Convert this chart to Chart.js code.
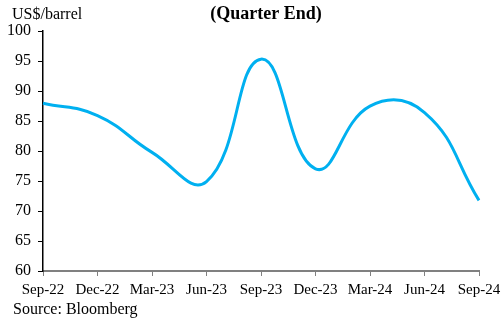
<!DOCTYPE html>
<html>
<head>
<meta charset="utf-8">
<script src="https://cdn.jsdelivr.net/npm/chart.js@4"></script>
<style>
  html, body { margin: 0; padding: 0; background: #fff; }
  #wrap { width: 502px; height: 322px; position: relative; }
</style>
</head>
<body>
<div id="wrap"><canvas id="brentChart" width="502" height="322"></canvas></div>
<script>
const quarters = ['Sep-22', 'Dec-22', 'Mar-23', 'Jun-23', 'Sep-23', 'Dec-23', 'Mar-24', 'Jun-24', 'Sep-24'];
const brentPrice = [87.96, 85.91, 79.77, 74.9, 95.31, 77.04, 87.48, 86.41, 71.77];
const yTicks = [60, 65, 70, 75, 80, 85, 90, 95, 100];

const serif = '"Liberation Serif", "Times New Roman", serif';

// title, unit label and source drawn as text on the canvas
const textPlugin = {
    id: 'extraText',
    afterDraw(chart) {
        const ctx = chart.ctx;
        ctx.save();
        ctx.fillStyle = '#000';
        ctx.textBaseline = 'middle';
        ctx.font = 'bold 18px ' + serif;
        ctx.textAlign = 'center';
        ctx.fillText('(Quarter End)', 266, 14);
        ctx.font = '16px ' + serif;
        ctx.textAlign = 'left';
        ctx.fillText('US$/barrel', 12, 15);
        ctx.fillText('Source: Bloomberg', 13, 310);
        ctx.restore();
    }
};

const ctx = document.getElementById('brentChart').getContext('2d');
new Chart(ctx, {
    type: 'line',
    data: {
        labels: quarters,
        datasets: [{
            data: brentPrice,
            borderColor: '#00B0F0',
            borderWidth: 3,
            pointRadius: 0,
            tension: 0.45,
            fill: false
        }]
    },
    options: {
        responsive: false,
        animation: false,
        layout: { padding: { top: 31, right: 23, left: 0, bottom: 0 } },
        plugins: {
            legend: { display: false },
            tooltip: { enabled: false }
        },
        scales: {
            x: {
                offset: false,
                grid: {
                    display: true,
                    drawOnChartArea: false,
                    drawTicks: true,
                    tickLength: 5,
                    color: '#808080',
                    lineWidth: 1
                },
                border: { display: true, color: '#808080', width: 2 },
                ticks: {
                    color: '#000',
                    font: { family: serif, size: 15 },
                    maxRotation: 0,
                    autoSkip: false,
                    padding: 5
                },
                afterFit(scale) {
                    scale.height = 51;
                    scale.paddingLeft = 0;
                    scale.paddingRight = 0;
                }
            },
            y: {
                min: 60,
                max: 100,
                afterBuildTicks(scale) {
                    scale.ticks = yTicks.map(v => ({ value: v }));
                },
                grid: {
                    display: true,
                    drawOnChartArea: false,
                    drawTicks: true,
                    tickLength: 5,
                    color: '#000'
                },
                border: { display: true, color: '#000', width: 1.5 },
                ticks: {
                    color: '#000',
                    font: { family: serif, size: 16 },
                    padding: 7
                },
                afterFit(scale) { scale.width = 43; }
            }
        }
    },
    plugins: [textPlugin]
});
</script>
</body>
</html>
